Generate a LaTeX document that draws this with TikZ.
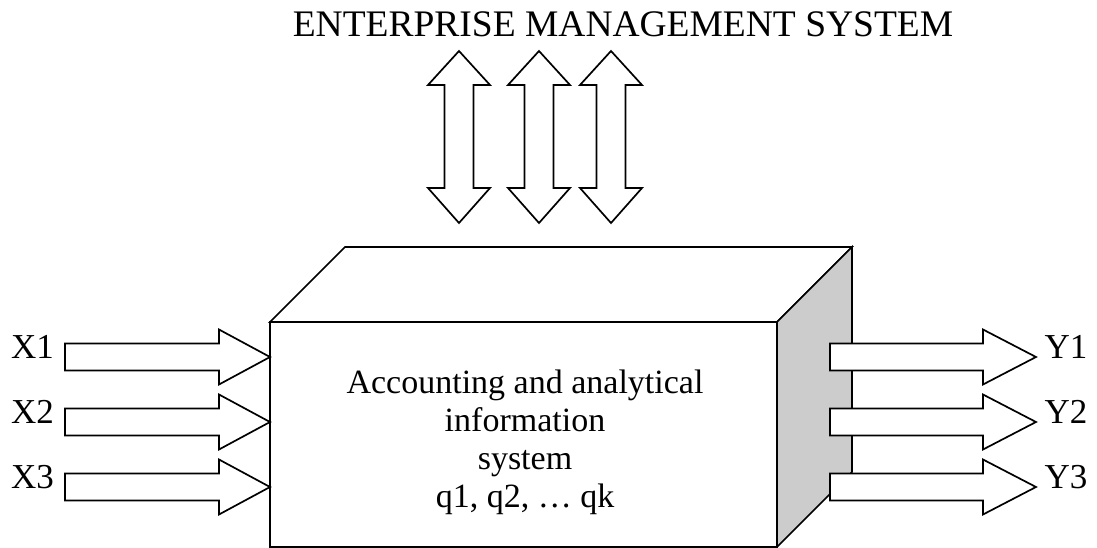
\documentclass[tikz,border=0pt]{standalone}
\usepackage{fontspec}
\setmainfont{Liberation Serif}
\tikzset{
  blk/.style={draw=black, fill=white, line width=1.7pt, line join=miter},
  side/.style={draw=black, fill=black!20, line width=1.7pt, line join=miter},
  lbl/.style={inner sep=0pt, anchor=base, font=\fontsize{35}{40}\selectfont},
}
% horizontal block arrow: tail x, head-base x, tip x, centre y
\newcommand\harrow[4]{%
  \draw[blk] (#1,#4-13.5) -- (#2,#4-13.5) -- (#2,#4-27.5) -- (#3,#4)
    -- (#2,#4+27.5) -- (#2,#4+13.5) -- (#1,#4+13.5) -- cycle;}
% vertical double block arrow: centre x
\newcommand\varrow[1]{%
  \draw[blk] (#1,51) -- (#1+31,85) -- (#1+14.5,85) -- (#1+14.5,188) -- (#1+31,188)
    -- (#1,223) -- (#1-31,188) -- (#1-14.5,188) -- (#1-14.5,85) -- (#1-31,85) -- cycle;}
\begin{document}
\begin{tikzpicture}[x=1pt, y=-1pt]
  \useasboundingbox (0,0) rectangle (1097,548);

  % title
  \node[inner sep=0pt, anchor=base, font=\fontsize{37.5}{44}\selectfont] (ems) at (623,37)
    {ENTERPRISE MANAGEMENT SYSTEM};

  % exchange with the management system
  \varrow{459}
  \varrow{539}
  \varrow{611}

  % the box: top face, side face, front face
  \draw[blk] (270,322) -- (345,247) -- (852,247) -- (777,322) -- cycle;
  \draw[side] (777,322) -- (852,247) -- (852,472) -- (777,547) -- cycle;
  \draw[blk] (270,322) rectangle (777,547);

  % the base anchor of this node lies on its last line
  \node[inner sep=0pt, align=center, anchor=base, font=\fontsize{34}{38}\selectfont] (ais) at (525,507)
    {Accounting and analytical\\information\\system\\q1, q2, \dots\ qk};

  % inputs
  \harrow{65}{219}{270}{357}
  \harrow{65}{219}{270}{422}
  \harrow{65}{219}{270}{487}
  \node[lbl] (x1) at (32.5,358) {X1};
  \node[lbl] (x2) at (32.5,423) {X2};
  \node[lbl] (x3) at (32.5,488) {X3};

  % outputs
  \harrow{830}{983}{1036}{357}
  \harrow{830}{983}{1036}{422}
  \harrow{830}{983}{1036}{487}
  \node[lbl] (y1) at (1066,358) {Y1};
  \node[lbl] (y2) at (1066,423) {Y2};
  \node[lbl] (y3) at (1066,488) {Y3};
\end{tikzpicture}
\end{document}
